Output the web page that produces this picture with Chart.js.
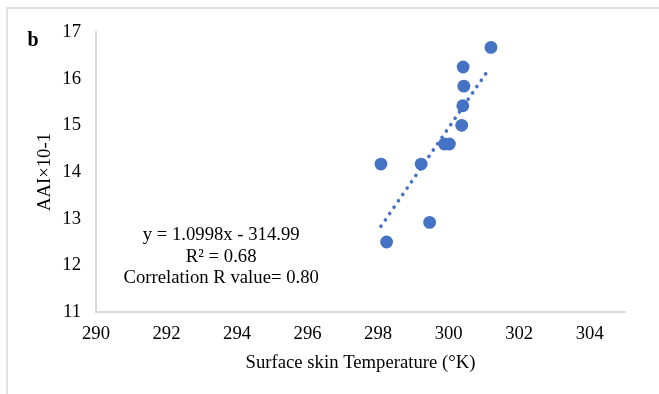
<!DOCTYPE html>
<html>
<head>
<meta charset="utf-8">
<script src="https://cdn.jsdelivr.net/npm/chart.js@4.4.1/dist/chart.umd.min.js"></script>
<style>
html,body{margin:0;padding:0;background:#fff;}
#wrap{position:relative;width:659px;height:394px;}
</style>
</head>
<body>
<div id="wrap"><canvas id="c" width="659" height="394"></canvas></div>
<script>
// Data
const tempK = [301.2, 300.41, 300.43, 300.4, 300.37, 299.88, 300.02, 299.22, 298.08, 299.46, 298.24];
const aai   = [16.67, 16.25, 15.84, 15.42, 15.0, 14.6, 14.6, 14.17, 14.17, 12.92, 12.5];
const xTicks = [290, 292, 294, 296, 298, 300, 302, 304];
const yTicks = [11, 12, 13, 14, 15, 16, 17];
const trendSlope = 1.0998, trendIntercept = -314.99;
const trendX = [298.08, 301.15];
const annotationLines = ["y = 1.0998x - 314.99", "R\u00B2 = 0.68", "Correlation R value= 0.80"];
const annotationPos = {x: 293.55, y: [12.65, 12.18, 11.73]};

const points = tempK.map((t, i) => ({x: t, y: aai[i]}));
const trend = trendX.map(x => ({x: x, y: trendSlope * x + trendIntercept}));

const serif = "'Liberation Serif', 'Times New Roman', serif";
const FS = 18.7;
const blue = '#4472C4';
const axisGray = '#d9d9d9';

const framePlugin = {
  id: 'frame',
  beforeDraw(chart) {
    const ctx = chart.ctx;
    ctx.save();
    ctx.fillStyle = '#fff';
    ctx.fillRect(0, 0, chart.width, chart.height);
    ctx.strokeStyle = '#d9d9d9';
    ctx.lineWidth = 1.5;
    ctx.beginPath();
    ctx.moveTo(7, chart.height);
    ctx.lineTo(7, 8);
    ctx.lineTo(chart.width, 8);
    ctx.stroke();
    ctx.restore();
  },
  afterDraw(chart) {
    const ctx = chart.ctx;
    const xs = chart.scales.x, ys = chart.scales.y;
    ctx.save();
    ctx.fillStyle = '#000';
    ctx.font = "bold 20px " + serif;
    ctx.textAlign = 'center';
    ctx.textBaseline = 'middle';
    ctx.fillText('b', 33, 41);
    ctx.font = FS + "px " + serif;
    const cx = xs.getPixelForValue(annotationPos.x);
    annotationLines.forEach((s, i) => {
      ctx.fillText(s, cx, ys.getPixelForValue(annotationPos.y[i]));
    });
    ctx.restore();
  }
};

new Chart(document.getElementById('c'), {
  type: 'scatter',
  data: {
    datasets: [
      {
        type: 'line',
        data: trend,
        borderColor: blue,
        borderWidth: 3.6,
        borderDash: [0.1, 7.6],
        borderCapStyle: 'round',
        pointRadius: 0,
        fill: false,
        order: 2
      },
      {
        data: points,
        backgroundColor: blue,
        borderColor: blue,
        pointRadius: 6.4,
        pointHoverRadius: 6.4,
        borderWidth: 0,
        order: 1
      }
    ]
  },
  options: {
    responsive: false,
    animation: false,
    events: [],
    layout: {padding: {top: 32, right: 34, left: 0, bottom: 0}},
    plugins: {legend: {display: false}, tooltip: {enabled: false}},
    scales: {
      x: {
        type: 'linear',
        min: 290, max: 305,
        afterBuildTicks(s) { s.ticks = xTicks.map(v => ({value: v})); },
        afterFit(s) { s.height = 82; },
        grid: {display: false, drawTicks: false},
        border: {display: true, color: axisGray, width: 2},
        ticks: {color: '#000', padding: 11, font: {family: serif, size: FS}, maxRotation: 0, autoSkip: false},
        title: {display: true, text: 'Surface skin Temperature (\u00B0K)', color: '#000', font: {family: serif, size: FS}, padding: {top: 0, bottom: 20}}
      },
      y: {
        type: 'linear',
        min: 11, max: 17,
        afterBuildTicks(s) { s.ticks = yTicks.map(v => ({value: v})); },
        afterFit(s) { s.width = 96; },
        grid: {display: false, drawTicks: false},
        border: {display: true, color: axisGray, width: 2},
        ticks: {color: '#000', padding: 15, font: {family: serif, size: FS}},
        title: {display: true, text: 'AAI\u00D710-1', color: '#000', font: {family: serif, size: FS}, padding: {top: 34, bottom: 0}}
      }
    }
  },
  plugins: [framePlugin]
});
</script>
</body>
</html>
